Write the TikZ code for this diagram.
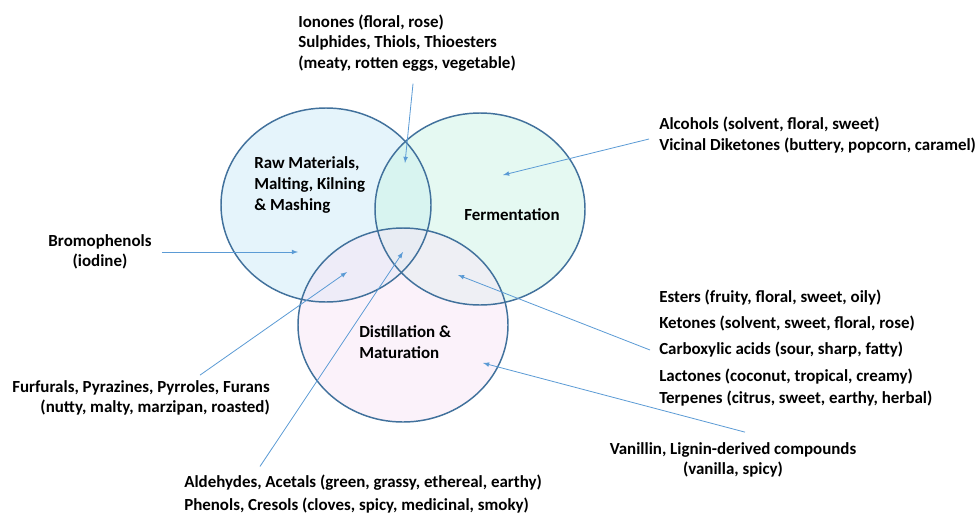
\documentclass[tikz,border=0pt]{standalone}
\usepackage{fontspec}
\setmainfont{Carlito}
\usepackage{xcolor}
\usepackage{tikz}
\usetikzlibrary{arrows,positioning,calc}
\definecolor{ringblue}{HTML}{41719C}
\definecolor{arrowblue}{HTML}{5B9BD5}
\definecolor{rawfill}{HTML}{CCEBF8}
\definecolor{fermfill}{HTML}{CCF5E6}
\definecolor{distfill}{HTML}{F8E6F6}

\begin{document}
\begin{tikzpicture}[x=0.75pt, y=-0.75pt,
  txt/.style={inner sep=0pt, font=\fontsize{12.7}{15.5}\selectfont\bfseries},
  ring/.style={draw=ringblue, line width=1.1pt},
  shade/.style={fill opacity=0.5},
  arr/.style={-latex, draw=arrowblue, line width=0.6pt}]
\useasboundingbox (0,0) rectangle (977,518);
\fill[white] (0,0) rectangle (977,518);
\fill[shade, rawfill] (326,205) ellipse [x radius=105, y radius=97];
\fill[shade, fermfill] (480,209) ellipse [x radius=105, y radius=96];
\fill[shade, distfill] (403,325) ellipse [x radius=105, y radius=97];
\draw[ring] (326,205) ellipse [x radius=105, y radius=97];
\draw[ring] (480,209) ellipse [x radius=105, y radius=96];
\draw[ring] (403,325) ellipse [x radius=105, y radius=97];
\node[txt, anchor=west, align=left] (raw) at (254,185) {Raw Materials,\\Malting, Kilning\\\& Mashing};
\node[txt] (ferm) at (512,215) {Fermentation};
\node[txt, anchor=west, align=left] (dist) at (359,342) {Distillation \&\\Maturation};
\coordinate (tion) at (405,163);
\coordinate (talc) at (503,175);
\coordinate (tbro) at (298,252);
\coordinate (tfur) at (347,272);
\coordinate (tald) at (403,252);
\coordinate (tcarb) at (458,275);
\coordinate (tvan) at (483,363);
\node[txt, anchor=west, align=left] (ion) at (298,43) {Ionones (floral, rose)\\Sulphides, Thiols, Thioesters\\(meaty, rotten eggs, vegetable)};
\node[txt, anchor=west, align=left] (alc) at (659,135) {Alcohols (solvent, floral, sweet)\\Vicinal Diketones (buttery, popcorn, caramel)};
\node[txt, align=center] (bro) at (100,252) {Bromophenols\\(iodine)};
\node[txt, anchor=east, align=right] (fur) at (270,398) {Furfurals, Pyrazines, Pyrroles, Furans\\(nutty, malty, marzipan, roasted)};
\node[txt, anchor=west, align=left] (ald) at (184,494) {Aldehydes, Acetals (green, grassy, ethereal, earthy)\\[2pt]Phenols, Cresols (cloves, spicy, medicinal, smoky)};
\node[txt, anchor=west] (est) at (659,298) {Esters (fruity, floral, sweet, oily)};
\node[txt, anchor=west] (ket) at (659,323) {Ketones (solvent, sweet, floral, rose)};
\node[txt, anchor=west] (carb) at (659,350) {Carboxylic acids (sour, sharp, fatty)};
\node[txt, anchor=west] (lac) at (659,377) {Lactones (coconut, tropical, creamy)};
\node[txt, anchor=west] (ter) at (659,399) {Terpenes (citrus, sweet, earthy, herbal)};
\node[txt, align=center] (van) at (733,460) {Vanillin, Lignin-derived compounds\\(vanilla, spicy)};
\draw[arr] ($(ion.south)+(6,12)$) -- (tion);
\draw[arr] ($(alc.west)+(-10,4)$) -- (talc);
\draw[arr] ($(bro.east)+(10,0)$) -- (tbro);
\draw[arr] ($(fur.north)+(59,-5)$) -- (tfur);
\draw[arr] ($(ald.north west)+(76,-8)$) -- (tald);
\draw[arr] ($(carb.west)+(-9,0)$) -- (tcarb);
\draw[arr] ($(van.north)+(12,-10)$) -- (tvan);
\end{tikzpicture}
\end{document}
